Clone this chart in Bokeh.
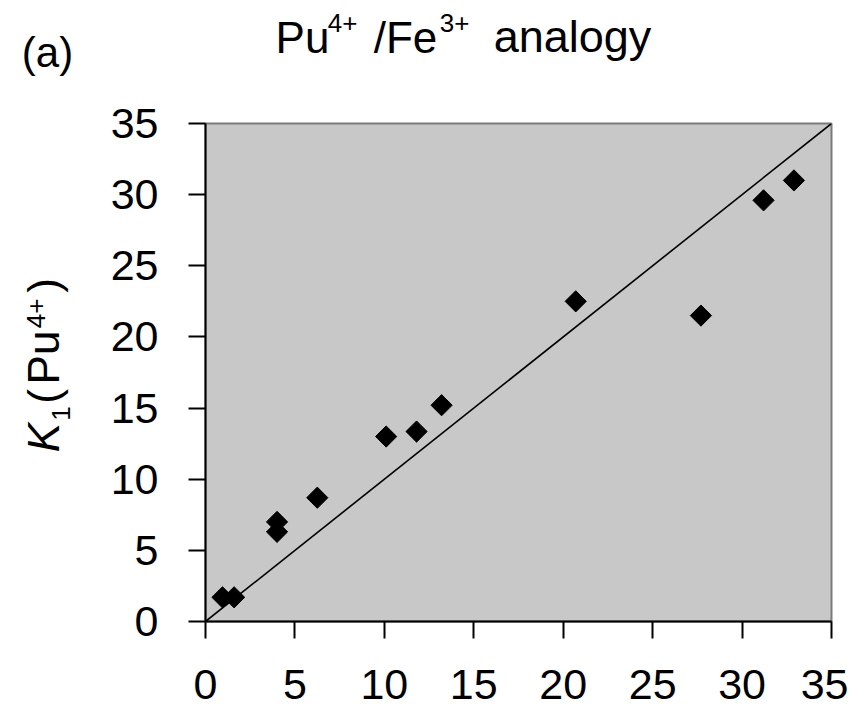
from bokeh.plotting import figure
from bokeh.models import Range1d, FixedTicker, Label
from bokeh.layouts import column, row
from bokeh.embed import file_html
from bokeh.resources import INLINE
import math

# ---- data ----
fe3_logk = [0.95, 1.6, 4.0, 4.0, 6.25, 10.1, 11.8, 13.2, 20.7, 27.7, 31.2, 32.9]
pu4_logk = [1.7, 1.7, 7.0, 6.3, 8.7, 13.0, 13.35, 15.2, 22.5, 21.5, 29.6, 31.0]
line_x = [0, 35]          # 1:1 line
line_y = [0, 35]
ticks = [0, 5, 10, 15, 20, 25, 30, 35]

FONT = "Liberation Sans"
W, TOP_H, LEFT_W, TOTAL_H = 848, 90, 95, 717
MAIN_H = TOTAL_H - TOP_H
B_TOP, FRAME_H = 33, 498
B_BOT = MAIN_H - B_TOP - FRAME_H

# ---- main plot ----
p = figure(width=W - LEFT_W, height=MAIN_H, output_backend="svg", toolbar_location=None,
           x_range=Range1d(0, 35), y_range=Range1d(0, 35),
           min_border_left=110, min_border_right=17, min_border_top=B_TOP,
           min_border_bottom=B_BOT)
p.background_fill_color = "#c8c8c8"
p.border_fill_color = "white"
p.outline_line_color = "#7a7a7a"
p.outline_line_width = 2
p.xgrid.visible = False
p.ygrid.visible = False

for ax in (p.xaxis[0], p.yaxis[0]):
    ax.ticker = FixedTicker(ticks=ticks)
    ax.minor_tick_line_color = None
    ax.major_tick_in = 0
    ax.major_tick_out = 17
    ax.major_tick_line_width = 2
    ax.major_tick_line_color = "black"
    ax.axis_line_width = 2
    ax.axis_line_color = "black"
    ax.major_label_text_font = FONT
    ax.major_label_text_font_size = "43px"
    ax.major_label_text_color = "black"
p.xaxis[0].major_label_standoff = 31
p.yaxis[0].major_label_standoff = 30

p.line(line_x, line_y, line_color="black", line_width=1.6)
p.scatter(fe3_logk, pu4_logk, marker="square", angle=math.pi / 4, size=15,
          fill_color="black", line_color="black")


# ---- text panels (data coordinates equal page pixels) ----
def text_fig(w, h, x0, y0, top=0, bottom=0):
    fh = h - top - bottom
    f = figure(width=w, height=h, output_backend="svg", toolbar_location=None,
               x_range=Range1d(x0, x0 + w), y_range=Range1d(y0 + top + fh, y0 + top),
               x_axis_location=None, y_axis_location=None, min_border=0,
               min_border_top=top, min_border_bottom=bottom,
               min_border_left=0, min_border_right=0)
    f.grid.visible = False
    f.outline_line_color = None
    f.background_fill_color = "white"
    f.border_fill_color = "white"
    return f


MID = 0.3465  # baseline -> middle of the text box, in em


def htxt(f, s, cx, base, size, style="normal"):
    """horizontal text, centred at cx, baseline at page y=base"""
    f.add_layout(Label(x=cx, y=base - MID * size, text=s, text_font=FONT,
                       text_font_size=f"{size}px", text_font_style=style,
                       text_color="black", text_align="center", text_baseline="middle"))


def vtxt(f, s, base, cy, size, style="normal"):
    """text rotated 90 deg, baseline at page x=base, centred at page y=cy"""
    f.add_layout(Label(x=base - MID * size, y=cy, text=s, text_font=FONT,
                       text_font_size=f"{size}px", text_font_style=style,
                       text_color="black", text_align="center", text_baseline="middle",
                       angle=math.pi / 2))


t = text_fig(W, TOP_H, 0, 0)
htxt(t, "(a)", 47, 67, 42)
htxt(t, "Pu", 302, 52, 44)
htxt(t, "4+", 342, 32, 26)
htxt(t, "/Fe", 405, 52, 44)
htxt(t, "3+", 454, 32, 26)
htxt(t, "analogy", 572, 52, 45)

yl = text_fig(LEFT_W, MAIN_H, 0, TOP_H, top=B_TOP, bottom=B_BOT)
vtxt(yl, "K", 58, 437, 44, "italic")
vtxt(yl, "1", 70, 413, 26)
vtxt(yl, "(", 58, 396, 44)
vtxt(yl, "Pu", 58, 357, 44)
vtxt(yl, "4+", 45, 313, 26)
vtxt(yl, ")", 58, 285, 44)

layout = column(t, row(yl, p))
open("out.html", "w").write(file_html(layout, INLINE))
